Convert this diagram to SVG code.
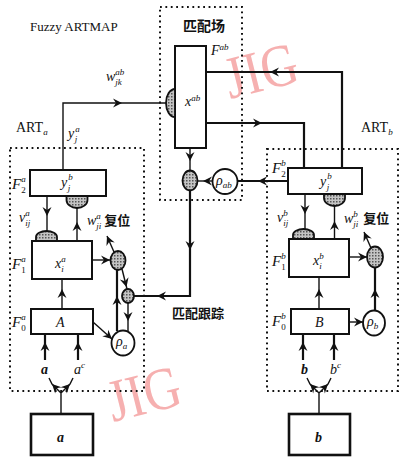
<svg xmlns="http://www.w3.org/2000/svg" xmlns:xlink="http://www.w3.org/1999/xlink" width="402" height="457" viewBox="0 0 402 457">
<style>
text{font-family:"Liberation Serif","Times New Roman",serif;fill:#111}
.it{font-style:italic;font-size:14px}
.s{font-size:9px}
.sn{font-size:9px;font-style:normal}
.bi{font-style:italic;font-weight:bold;font-size:14px}
.cjk{font-family:"Liberation Serif","Noto Sans CJK SC",serif;font-weight:bold;font-style:normal;font-size:13px}
.box{fill:#fff;stroke:#111;stroke-width:2}
.ibox{fill:#fff;stroke:#111;stroke-width:2.6}
.dot{fill:none;stroke:#111;stroke-width:2;stroke-dasharray:1.8 3.6}
.ln{fill:none;stroke:#111;stroke-width:1.4}
.tk{fill:none;stroke:#111;stroke-width:2.2}
.gn{fill:url(#st);stroke:#111;stroke-width:1.8}
.wm{font-family:"Liberation Serif",serif;font-size:60px;fill:#f6b0b0}
</style>
<defs>
<pattern id="st" width="3" height="3" patternUnits="userSpaceOnUse"><rect width="3" height="3" fill="#c4c4c4"/><rect width="1.5" height="1.5" fill="#555"/></pattern>
<path id="ah" d="M0,0 L-9,-4.5 L-6,0 L-9,4.5 Z" fill="#111"/>
</defs>
<rect width="402" height="457" fill="#fff"/>

<!-- watermarks -->
<text class="wm" transform="translate(230,99) rotate(-14) scale(0.85,1)">JIG</text>
<text class="wm" transform="translate(113,422) rotate(-14) scale(0.85,1)">JIG</text>

<!-- titles and module frames -->
<text x="30" y="31" style="font-size:13px">Fuzzy ARTMAP</text>
<text x="16" y="132" style="font-size:14px">ART<tspan class="s" style="font-style:italic" dy="3">a</tspan></text>
<text x="361" y="132" style="font-size:14px">ART<tspan class="s" style="font-style:italic" dy="3">b</tspan></text>
<text x="183" y="31" class="cjk" style="font-size:14px">匹配场</text>
<text x="172" y="318" class="cjk">匹配跟踪</text>
<g id="frames">
<rect class="dot" x="10" y="148" width="134" height="243"/>
<rect class="dot" x="160" y="7" width="82" height="193"/>
<rect class="dot" x="267" y="149" width="131" height="242"/>
</g>

<!-- connectors -->
<g id="connectors">
<path class="ln" d="M63,170 V103 H167"/>
<use href="#ah" transform="translate(122,103)"/>
<path class="ln" d="M190,148 V170"/>
<use href="#ah" transform="translate(190,161) rotate(90)"/>
<path class="ln" d="M212.5,181 H198"/>
<use href="#ah" transform="translate(203,181) rotate(180)"/>
<path class="tk" d="M288,181 H237.5"/>
<use href="#ah" transform="translate(258,181) rotate(180)"/>
<path class="tk" d="M190,190.5 V296 H134"/>
<use href="#ah" transform="translate(190,250) rotate(90)"/>
<use href="#ah" transform="translate(157,296) rotate(180)"/>

<path class="ln" d="M47,196 V231"/>
<use href="#ah" transform="translate(47,216) rotate(90)"/>
<path class="ln" d="M77,241 V208"/>
<use href="#ah" transform="translate(77,222) rotate(-90)"/>
<path class="ln" d="M92,260 H110.5"/>
<use href="#ah" transform="translate(110,260)"/>
<path class="ln" d="M114,252 L107,236"/>
<use href="#ah" transform="translate(107,236) rotate(-113.6)"/>
<path class="ln" d="M122,269 L127,289"/>
<use href="#ah" transform="translate(126.5,287) rotate(75)"/>
<path class="tk" d="M117,331 V270"/>
<use href="#ah" transform="translate(117,296) rotate(-90)"/>
<path class="ln" d="M128,303 V331"/>
<use href="#ah" transform="translate(128,321) rotate(90)"/>
<path class="ln" d="M62,309 V279"/>
<use href="#ah" transform="translate(62,289) rotate(-90)"/>
<path class="ln" d="M93,322 L112,339"/>
<use href="#ah" transform="translate(112,339) rotate(41.8)"/>
<path class="tk" d="M45,360 V334 M78,360 V334"/>
<use href="#ah" transform="translate(45,342) rotate(-90)"/>
<use href="#ah" transform="translate(78,342) rotate(-90)"/>
<path class="ln" d="M61,414 V393 L52,384 L49,378 M61,393 L70,384 L73,378"/>
<use href="#ah" transform="translate(52,384) rotate(-135)"/>
<use href="#ah" transform="translate(70,384) rotate(-45)"/>

<path class="tk" d="M342,168 V72 H206"/>
<use href="#ah" transform="translate(270,72) rotate(180)"/>
<path class="tk" d="M206,123 H304 V168"/>
<use href="#ah" transform="translate(262,123)"/>
<path class="ln" d="M305,194 V229"/>
<use href="#ah" transform="translate(305,214) rotate(90)"/>
<path class="ln" d="M334.5,239 V206"/>
<use href="#ah" transform="translate(334.5,221) rotate(-90)"/>
<path class="ln" d="M349,257 H367"/>
<use href="#ah" transform="translate(367,257)"/>
<path class="ln" d="M371,248 L364,232"/>
<use href="#ah" transform="translate(364,232) rotate(-113.6)"/>
<path class="tk" d="M375,310.5 V268"/>
<use href="#ah" transform="translate(375,289) rotate(-90)"/>
<path class="ln" d="M319,309 V277"/>
<use href="#ah" transform="translate(319,289) rotate(-90)"/>
<path class="ln" d="M349,322 H363"/>
<use href="#ah" transform="translate(363,322)"/>
<path class="tk" d="M303,360 V334 M334,360 V334"/>
<use href="#ah" transform="translate(303,342) rotate(-90)"/>
<use href="#ah" transform="translate(334,342) rotate(-90)"/>
<path class="ln" d="M319,414 V393 L310,384 L307,378 M319,393 L328,384 L331,378"/>
<use href="#ah" transform="translate(310,384) rotate(-135)"/>
<use href="#ah" transform="translate(328,384) rotate(-45)"/>
</g>

<!-- match field -->
<g id="Fab">
<rect class="box" x="175" y="46" width="31" height="102"/>
<text class="it" x="185" y="106">x<tspan class="s" dy="-5">ab</tspan></text>
<text class="it" x="211" y="55">F<tspan class="s" dy="-5">ab</tspan></text>
</g>
<g id="gainAB"><path class="gn" d="M175,89 A9,14 0 0 0 175,117 Z"/></g>
<g id="matchNode"><ellipse class="gn" cx="190" cy="180.5" rx="7.5" ry="10"/></g>
<g id="rhoAB">
<circle cx="225" cy="181.5" r="12.5" fill="#fff" stroke="#111" stroke-width="1.8"/>
<text class="it" x="216" y="185">ρ<tspan class="s" dy="3">ab</tspan></text>
</g>
<g id="wjk"><text class="it" x="106" y="81">w<tspan class="s" dy="-6">ab</tspan><tspan class="s" dx="-9" dy="10">jk</tspan></text></g>
<g id="yja"><text class="it" x="68" y="138">y<tspan class="s" dx="1" dy="-6">a</tspan><tspan class="s" dx="-5" dy="10">j</tspan></text></g>

<!-- ART a -->
<g id="F2a">
<rect class="box" x="30" y="170" width="76" height="26"/>
<text class="it" x="61" y="187">y<tspan class="s" dx="1" dy="-7">b</tspan><tspan class="s" dx="-5" dy="11">j</tspan></text>
<text class="it" x="12" y="189" style="font-size:15px">F<tspan class="sn" dy="4">2</tspan><tspan class="s" dx="-4.5" dy="-11">a</tspan></text>
</g>
<g id="gainF2a"><path class="gn" d="M66.5,196 V200 A10.5,8 0 0 0 87.5,200 V196 Z"/></g>
<g id="gainF1a"><path class="gn" d="M36,241 V237 A10.5,6 0 0 1 57,237 V241 Z"/></g>
<g id="F1a">
<rect class="box" x="32" y="241" width="60" height="38"/>
<text class="it" x="55" y="268">x<tspan class="s" dy="-6">a</tspan><tspan class="s" dx="-4.5" dy="10">i</tspan></text>
<text class="it" x="12" y="269" style="font-size:15px">F<tspan class="sn" dy="4">1</tspan><tspan class="s" dx="-4.5" dy="-11">a</tspan></text>
</g>
<g id="vija"><text class="it" x="19" y="222">v<tspan class="s" dy="-6">a</tspan><tspan class="s" dx="-4.5" dy="10">ij</tspan></text></g>
<g id="resetLabelA"><text class="it" x="87" y="225">w<tspan class="s" dy="-6">a</tspan><tspan class="s" dx="-4.5" dy="10">ji</tspan><tspan class="cjk" dx="3" dy="-4">复位</tspan></text></g>
<g id="resetA"><ellipse class="gn" cx="118" cy="260.5" rx="7.5" ry="9.5"/></g>
<g id="mt"><ellipse class="gn" cx="128" cy="296" rx="6" ry="7"/></g>
<g id="rhoA">
<ellipse cx="123" cy="343" rx="11.5" ry="12.5" fill="#fff" stroke="#111" stroke-width="1.8"/>
<text class="it" x="116" y="346">ρ<tspan class="s" dy="3">a</tspan></text>
</g>
<g id="F0a">
<rect class="box" x="31" y="309" width="62" height="25"/>
<text class="it" x="56" y="327">A</text>
<text class="it" x="12" y="327" style="font-size:15px">F<tspan class="sn" dy="4">0</tspan><tspan class="s" dx="-4.5" dy="-11">a</tspan></text>
</g>
<g id="inA">
<text class="bi" x="41" y="374">a</text>
<text class="it" x="74" y="374">a<tspan class="s" dy="-6">c</tspan></text>
</g>
<g id="inputA">
<rect class="ibox" x="31" y="414" width="62" height="41"/>
<text class="bi" x="57" y="442">a</text>
</g>

<!-- ART b -->
<g id="F2b">
<rect class="box" x="288" y="168" width="74" height="26"/>
<text class="it" x="320" y="186">y<tspan class="s" dx="1" dy="-7">b</tspan><tspan class="s" dx="-5" dy="11">j</tspan></text>
<text class="it" x="272" y="173" style="font-size:15px">F<tspan class="sn" dy="4">2</tspan><tspan class="s" dx="-4.5" dy="-11">b</tspan></text>
</g>
<g id="gainF2b"><path class="gn" d="M324,194 V198 A10.5,8 0 0 0 345,198 V194 Z"/></g>
<g id="gainF1b"><path class="gn" d="M293,239 V235 A10.5,6 0 0 1 314,235 V239 Z"/></g>
<g id="F1b">
<rect class="box" x="289" y="239" width="60" height="38"/>
<text class="it" x="313" y="265">x<tspan class="s" dy="-6">b</tspan><tspan class="s" dx="-4.5" dy="10">i</tspan></text>
<text class="it" x="272" y="266" style="font-size:15px">F<tspan class="sn" dy="4">1</tspan><tspan class="s" dx="-4.5" dy="-11">b</tspan></text>
</g>
<g id="vijb"><text class="it" x="277" y="222">v<tspan class="s" dy="-6">b</tspan><tspan class="s" dx="-4.5" dy="10">ij</tspan></text></g>
<g id="resetLabelB"><text class="it" x="344" y="223">w<tspan class="s" dy="-6">b</tspan><tspan class="s" dx="-4.5" dy="10">ji</tspan><tspan class="cjk" dx="5" dy="-4">复位</tspan></text></g>
<g id="resetB"><ellipse class="gn" cx="375" cy="257" rx="8" ry="10.5"/></g>
<g id="rhoB">
<ellipse cx="374" cy="323" rx="11" ry="12.5" fill="#fff" stroke="#111" stroke-width="1.8"/>
<text class="it" x="367" y="326">ρ<tspan class="s" dy="3">b</tspan></text>
</g>
<g id="F0b">
<rect class="box" x="291" y="309" width="58" height="25"/>
<text class="it" x="315" y="327">B</text>
<text class="it" x="272" y="326" style="font-size:15px">F<tspan class="sn" dy="4">0</tspan><tspan class="s" dx="-4.5" dy="-11">b</tspan></text>
</g>
<g id="inB">
<text class="bi" x="301" y="374">b</text>
<text class="it" x="330" y="374">b<tspan class="s" dy="-6">c</tspan></text>
</g>
<g id="inputB">
<rect class="ibox" x="289" y="414" width="61" height="41"/>
<text class="bi" x="315" y="442">b</text>
</g>
</svg>
